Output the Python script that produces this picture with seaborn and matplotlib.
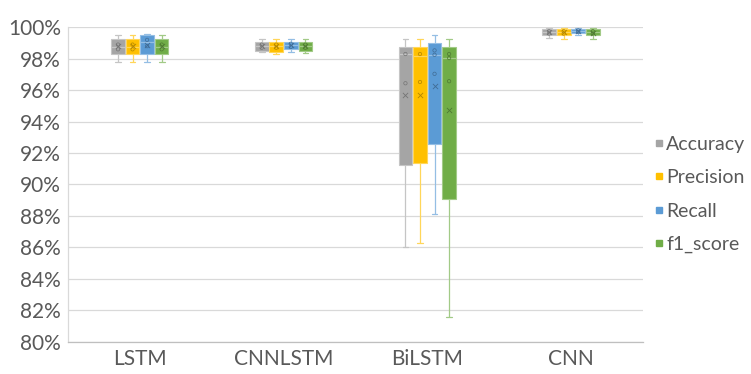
import numpy as np
import pandas as pd
import seaborn as sns
import matplotlib.pyplot as plt
import matplotlib.colors as mcolors
from matplotlib.lines import Line2D
from matplotlib.ticker import FuncFormatter, MultipleLocator

models = ["LSTM", "CNNLSTM", "BiLSTM", "CNN"]
metrics = ["Accuracy", "Precision", "Recall", "f1_score"]
colors = ["#a5a5a5", "#ffc000", "#5b9bd5", "#70ad47"]

# box summaries per model: [min, q1, median, q3, max] in %
accuracy_box = [[97.77, 98.27, 98.77, 99.24, 99.49],
                [98.40, 98.51, 98.80, 99.09, 99.24],
                [86.04, 91.24, 98.30, 98.77, 99.24],
                [99.30, 99.51, 99.70, 99.87, 99.97]]
precision_box = [[97.77, 98.27, 98.77, 99.24, 99.49],
                 [98.30, 98.45, 98.80, 99.09, 99.24],
                 [86.26, 91.39, 98.20, 98.77, 99.24],
                 [99.26, 99.51, 99.70, 99.87, 99.97]]
recall_box = [[97.77, 98.28, 99.09, 99.51, 99.55],
              [98.45, 98.62, 98.85, 99.09, 99.24],
              [88.12, 92.58, 98.25, 99.02, 99.51],
              [99.51, 99.62, 99.75, 99.87, 99.97]]
f1_box = [[97.77, 98.27, 98.77, 99.24, 99.49],
          [98.38, 98.51, 98.80, 99.09, 99.24],
          [81.55, 89.06, 98.04, 98.77, 99.24],
          [99.26, 99.51, 99.70, 99.87, 99.97]]

# mean markers (x) per model
accuracy_mean = [98.80, 98.80, 95.69, 99.68]
precision_mean = [98.80, 98.80, 95.70, 99.68]
recall_mean = [98.90, 98.85, 96.29, 99.74]
f1_mean = [98.80, 98.80, 94.74, 99.66]

# inner data points shown inside the boxes
accuracy_inner = [[98.6, 98.9], [98.7, 98.9], [96.44, 98.30], [99.6, 99.75]]
precision_inner = [[98.6, 98.9], [98.7, 98.9], [96.52, 98.30], [99.6, 99.75]]
recall_inner = [[98.8, 99.2], [98.75, 98.95], [97.04, 98.25, 98.53], [99.7, 99.8]]
f1_inner = [[98.6, 98.9], [98.7, 98.9], [96.57, 98.04, 98.30], [99.6, 99.75]]

box_stats = dict(zip(metrics, [accuracy_box, precision_box, recall_box, f1_box]))
means = dict(zip(metrics, [accuracy_mean, precision_mean, recall_mean, f1_mean]))
inner = dict(zip(metrics, [accuracy_inner, precision_inner, recall_inner, f1_inner]))

rows = []
for metric in metrics:
    for model, stats in zip(models, box_stats[metric]):
        for v in stats:
            rows.append((model, metric, v / 100))
df = pd.DataFrame(rows, columns=["model", "metric", "value"])

sns.set_theme(style="white")
plt.rcParams['font.family'] = ['Lato', 'DejaVu Sans']

def shade(c, f):
    r, g, b = mcolors.to_rgb(c)
    if f > 0:
        return (r + (1 - r) * f, g + (1 - g) * f, b + (1 - b) * f)
    return (r * (1 + f), g * (1 + f), b * (1 + f))

fig = plt.figure(figsize=(7.51, 3.74), dpi=100)
ax = fig.add_axes([0.0905, 0.0864, 0.7655, 0.8406])

sns.boxplot(data=df, x="model", y="value", hue="metric", order=models,
            hue_order=metrics, palette=colors, whis=(0, 100), width=0.405,
            gap=0.06, linewidth=0.8, showfliers=False, legend=False, ax=ax)

# colour each hue like Excel and add means / inner points
for metric, color, cont in zip(metrics, colors, ax.containers):
    light = shade(color, 0.35)
    dark = shade(color, -0.3)
    centers = []
    for box in cont.boxes:
        box.set_facecolor(color)
        box.set_edgecolor(light)
        xs = box.get_path().vertices[:, 0]
        centers.append((xs.min() + xs.max()) / 2)
    for ln in list(cont.whiskers) + list(cont.caps):
        ln.set_color(light)
        ln.set_linewidth(0.9)
    for ln in cont.medians:
        ln.set_color(light)
        ln.set_linewidth(0.9)
    for ln, c in zip(cont.caps, np.repeat(centers, 2)):
        ln.set_xdata([c - 0.02, c + 0.02])
    ax.scatter(centers, np.array(means[metric]) / 100, marker="x", s=14,
               color=dark, linewidths=0.6, zorder=5)
    for c, pts in zip(centers, inner[metric]):
        ax.scatter([c] * len(pts), np.array(pts) / 100, marker="o", s=6,
                   facecolors="none", edgecolors=dark, linewidths=0.5, zorder=5)

ax.set_ylim(0.80, 1.0)
ax.set_xlim(-0.5, 3.5)
ax.yaxis.set_major_locator(MultipleLocator(0.02))
ax.yaxis.set_major_formatter(FuncFormatter(lambda v, p: f"{v * 100:.0f}%"))
ax.set_axisbelow(True)
ax.yaxis.grid(True, color="#d9d9d9", linewidth=0.9)
ax.set_xlabel("")
ax.set_ylabel("")
ax.tick_params(axis="both", length=0, labelsize=15, labelcolor="#595959")
ax.tick_params(axis="y", pad=5)
ax.tick_params(axis="x", pad=5)
for side in ["top", "right"]:
    ax.spines[side].set_visible(False)
ax.spines["left"].set_color("#d9d9d9")
ax.spines["bottom"].set_color("#bfbfbf")
ax.spines["left"].set_linewidth(0.9)
ax.spines["bottom"].set_linewidth(0.9)

handles = [Line2D([], [], marker="s", ls="", color=c, markersize=4.5) for c in colors]
fig.legend(handles, metrics, loc="center left", bbox_to_anchor=(0.856, 0.48),
           frameon=False, fontsize=14, handletextpad=0.0, labelspacing=0.85,
           handlelength=0.7, labelcolor="#595959", borderpad=0)

fig.savefig("out.png", dpi=100, facecolor="white")
